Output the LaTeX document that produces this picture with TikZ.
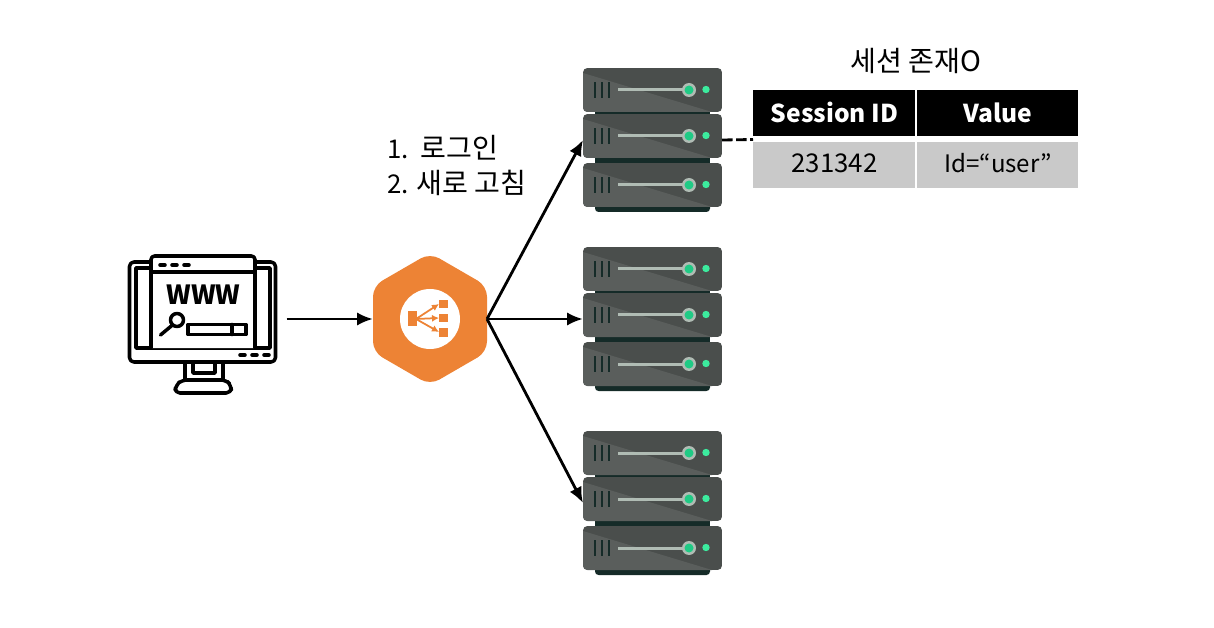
\documentclass[tikz,border=0pt]{standalone}
\usepackage{fontspec}
\setmainfont{Noto Sans CJK KR}
\usetikzlibrary{arrows.meta}
\definecolor{rackdark}{HTML}{4A4E4C}
\definecolor{racklight}{HTML}{5A5E5C}
\definecolor{rackbase}{HTML}{152B28}
\definecolor{rackline}{HTML}{B0BCB4}
\definecolor{rackgreen}{HTML}{1FCB85}
\definecolor{rackled}{HTML}{3CEB9E}
\definecolor{lborange}{HTML}{ED8335}
\definecolor{cellgray}{HTML}{C9C9C9}
\def\px{0.02cm}
\tikzset{
  conn/.style={-{Latex[length=9pt,width=7.5pt]},line width=1.6pt},
  mon/.style={line width=2pt,line join=round,line cap=round},
  headcell/.style={fill=black,text=white,font=\fontsize{14}{16}\selectfont\bfseries,inner sep=0pt,anchor=north west,text height=22*\px,text depth=4*\px},
  bodycell/.style={fill=cellgray,text=black,font=\fontsize{14.7}{16}\selectfont,inner sep=0pt,anchor=north west,text height=18*\px,text depth=4.6*\px},
  caption/.style={font=\fontsize{16}{17}\selectfont,inner sep=0pt,anchor=west},
  anchorbox/.style={inner sep=0pt,outer sep=0pt},
  serverunit/.pic={
    \begin{scope}
      \clip[rounded corners=2.5pt] (0,0) rectangle (139,44);
      \fill[rackdark] (0,0) rectangle (139,44);
      \fill[racklight] (0,5) -- (129,44) -- (0,44) -- cycle;
    \end{scope}
    \foreach \sx in {12,19,26}
      \fill[rackbase] (\sx-1.3,14) rectangle (\sx+1.3,30);
    \fill[rackline] (35,20.5) rectangle (104,23.5);
    \fill[rackline] (106,22) circle (7);
    \fill[rackgreen] (106,22) circle (4.5);
    \fill[rackled] (123,21.5) circle (3.7);
  },
  serverstack/.pic={
    \fill[rackbase] (12,40) rectangle (127,48);
    \fill[rackbase] (12,88) rectangle (127,97);
    \fill[rackbase,rounded corners=2pt] (12,130) rectangle (127,144);
    \pic at (0,0) {serverunit};
    \pic at (0,46) {serverunit};
    \pic at (0,95) {serverunit};
  }
}
\begin{document}
\begin{tikzpicture}[x=\px,y=-\px]
\useasboundingbox (0,0) rectangle (1214,628);

\node[anchorbox,minimum width=149*\px,minimum height=125*\px] (monitor) at (202.5,319) {};
\node[anchorbox,minimum width=114*\px,minimum height=127*\px] (balancer) at (430,319) {};
\node[anchorbox,minimum width=139*\px,minimum height=144*\px] (serverA) at (652.5,140) {};
\node[anchorbox,minimum width=139*\px,minimum height=144*\px] (serverB) at (652.5,319) {};
\node[anchorbox,minimum width=139*\px,minimum height=144*\px] (serverC) at (652.5,503) {};

\draw[mon,rounded corners=2.5pt] (129.5,262) rectangle (275.5,362);
\draw[mon] (136,268) -- (136,348) -- (270,348) -- (270,268) -- cycle;
\draw[mon,fill=white,rounded corners=2pt] (151,348) -- (151,256) -- (255,256) -- (255,348);
\draw[mon] (151,272) -- (255,272);
\draw[mon] (160,265) -- (165,265) (172,265) -- (177,265) (184,265) -- (189,265);
\draw[mon] (240,355) -- (245,355) (252,355) -- (257,355) (264,355) -- (269,355);
\draw[mon] (185,362) -- (185,380) (223,362) -- (223,380);
\draw[mon] (193,362) -- (193,373) -- (215,373) -- (215,362);
\draw[mon,rounded corners=3pt] (174.5,393) -- (176,385) -- (182,380) -- (226,380) -- (231,385) -- (231.5,393) -- cycle;
\node[anchorbox,font=\fontsize{15}{15}\selectfont\bfseries] (www) at (203.5,295) {WWW};
\draw[mon] (177,320) circle (6.5);
\draw[mon] (172.5,325) -- (160.5,335);
\draw[mon] (188,324.5) rectangle (246,334.5);
\draw[mon] (232,324.5) -- (232,334.5);

\fill[lborange,rounded corners=6pt] (430,253) -- (487,286) -- (487,352) -- (430,385) -- (373,352) -- (373,286) -- cycle;
\fill[white] (430,319) circle (30);
\fill[lborange] (408,311) rectangle (417,326);
\fill[lborange] (439,300) rectangle (448,308);
\fill[lborange] (439,314) rectangle (448,322);
\fill[lborange] (439,328) rectangle (448,337);
\draw[lborange,line width=1pt,-{Latex[length=4pt,width=4pt]}] (416,319) -- (439,304);
\draw[lborange,line width=1pt,-{Latex[length=4pt,width=4pt]}] (416,319) -- (439,318);
\draw[lborange,line width=1pt,-{Latex[length=4pt,width=4pt]}] (416,319) -- (439,332);

\pic at (583,68) {serverstack};
\pic at (583,247) {serverstack};
\pic at (583,431) {serverstack};

\draw[conn,shorten <=5.5pt] (monitor.east) -- (balancer.west);
\draw[conn] (balancer.east) -- (serverA.west);
\draw[conn] (balancer.east) -- (serverB.west);
\draw[conn] (balancer.east) -- (serverC.west);

\node[headcell,minimum width=162*\px,minimum height=46*\px] (headId) at (753,90) {Session ID};
\node[headcell,minimum width=161*\px,minimum height=46*\px] (headValue) at (917,90) {Value};
\node[bodycell,minimum width=162*\px,minimum height=46*\px] (cellId) at (753,142) {231342};
\node[bodycell,minimum width=161*\px,minimum height=46*\px,font=\fontsize{13.7}{16}\selectfont] (cellValue) at (917,142) {Id=“user”};
\coordinate (dashend) at (753,139.5);
\draw[line width=1.6pt,dash pattern=on 6pt off 2pt] (serverA.east) -- (dashend);

\node[anchorbox,font=\fontsize{16}{17}\selectfont] (title) at (916,61) {세션 존재O};
\node[caption] (stepone) at (387,147.5) {{\fontsize{14.7}{17}\selectfont 1.\ \ }로그인};
\node[caption] (steptwo) at (387,182.5) {{\fontsize{14.7}{17}\selectfont 2. }새로 고침};
\end{tikzpicture}
\end{document}
